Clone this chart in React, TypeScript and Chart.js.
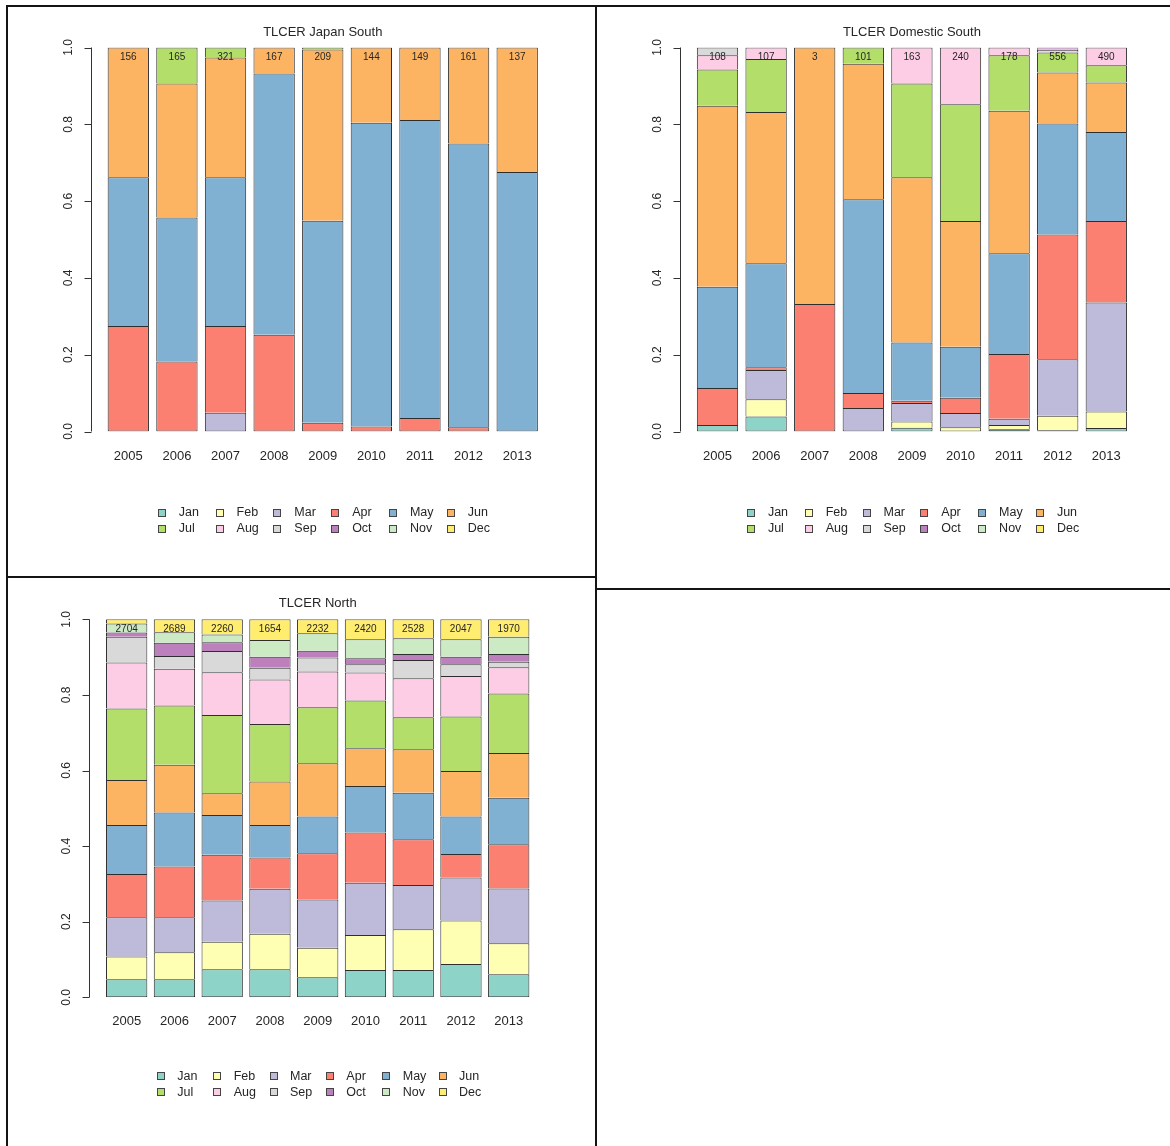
import React, { useEffect, useRef } from 'react';
import { Chart, registerables } from 'chart.js';

Chart.register(...registerables);

// ---------- data ----------
const YEARS = ['2005', '2006', '2007', '2008', '2009', '2010', '2011', '2012', '2013'];
const MONTHS = ['Jan', 'Feb', 'Mar', 'Apr', 'May', 'Jun', 'Jul', 'Aug', 'Sep', 'Oct', 'Nov', 'Dec'];
const MONTH_COLORS = ['#8DD3C7', '#FFFFB3', '#BEBADA', '#FB8072', '#80B1D3', '#FDB462', '#B3DE69', '#FCCDE5', '#D9D9D9', '#BC80BD', '#CCEBC5', '#FFED6F'];
const Y_TICK_VALUES = [0, 0.2, 0.4, 0.6, 0.8, 1.0];
const Y_TICK_LABELS = ['0.0', '0.2', '0.4', '0.6', '0.8', '1.0'];

const JAPAN_SOUTH_TITLE = 'TLCER Japan South';
const JAPAN_SOUTH_COUNTS = [156, 165, 321, 167, 209, 144, 149, 161, 137];
// one row per year, shares for Jan..Dec
const JAPAN_SOUTH_SHARES = [
  [0, 0, 0, 0.275, 0.387, 0.338, 0, 0, 0, 0, 0, 0],
  [0, 0, 0, 0.182, 0.375, 0.349, 0.094, 0, 0, 0, 0, 0],
  [0, 0, 0.049, 0.226, 0.387, 0.312, 0.026, 0, 0, 0, 0, 0],
  [0, 0, 0, 0.252, 0.68, 0.068, 0, 0, 0, 0, 0, 0],
  [0, 0, 0, 0.023, 0.526, 0.446, 0.005, 0, 0, 0, 0, 0],
  [0, 0, 0, 0.013, 0.791, 0.196, 0, 0, 0, 0, 0, 0],
  [0, 0, 0, 0.035, 0.776, 0.189, 0, 0, 0, 0, 0, 0],
  [0, 0, 0, 0.011, 0.739, 0.25, 0, 0, 0, 0, 0, 0],
  [0, 0, 0, 0, 0.676, 0.324, 0, 0, 0, 0, 0, 0],
];

const DOMESTIC_SOUTH_TITLE = 'TLCER Domestic South';
const DOMESTIC_SOUTH_COUNTS = [108, 107, 3, 101, 163, 240, 178, 556, 490];
const DOMESTIC_SOUTH_SHARES = [
  [0.017, 0, 0, 0.096, 0.264, 0.471, 0.095, 0.037, 0.02, 0, 0, 0],
  [0.039, 0.045, 0.076, 0.007, 0.271, 0.394, 0.138, 0.03, 0, 0, 0, 0],
  [0, 0, 0, 0.332, 0, 0.668, 0, 0, 0, 0, 0, 0],
  [0, 0, 0.061, 0.039, 0.505, 0.353, 0.042, 0, 0, 0, 0, 0],
  [0.01, 0.016, 0.048, 0.006, 0.152, 0.43, 0.244, 0.094, 0, 0, 0, 0],
  [0, 0.011, 0.037, 0.04, 0.133, 0.327, 0.304, 0.148, 0, 0, 0, 0],
  [0.006, 0.011, 0.016, 0.169, 0.262, 0.371, 0.145, 0.02, 0, 0, 0, 0],
  [0.003, 0.038, 0.147, 0.325, 0.289, 0.133, 0.052, 0.007, 0.003, 0.003, 0, 0],
  [0.009, 0.043, 0.284, 0.212, 0.232, 0.129, 0.045, 0.046, 0, 0, 0, 0],
];

const NORTH_TITLE = 'TLCER North';
const NORTH_COUNTS = [2704, 2689, 2260, 1654, 2232, 2420, 2528, 2047, 1970];
const NORTH_SHARES = [
  [0.048, 0.06, 0.104, 0.114, 0.13, 0.119, 0.189, 0.122, 0.068, 0.011, 0.024, 0.011],
  [0.048, 0.071, 0.093, 0.134, 0.143, 0.126, 0.157, 0.097, 0.034, 0.035, 0.028, 0.034],
  [0.074, 0.073, 0.109, 0.121, 0.105, 0.058, 0.207, 0.113, 0.056, 0.023, 0.021, 0.04],
  [0.074, 0.094, 0.119, 0.083, 0.086, 0.115, 0.152, 0.118, 0.031, 0.029, 0.044, 0.055],
  [0.053, 0.078, 0.128, 0.122, 0.097, 0.141, 0.148, 0.095, 0.037, 0.018, 0.046, 0.037],
  [0.072, 0.093, 0.138, 0.133, 0.123, 0.1, 0.126, 0.074, 0.022, 0.016, 0.05, 0.053],
  [0.072, 0.108, 0.117, 0.121, 0.123, 0.115, 0.085, 0.103, 0.048, 0.016, 0.042, 0.05],
  [0.088, 0.115, 0.114, 0.062, 0.099, 0.121, 0.144, 0.107, 0.031, 0.02, 0.046, 0.053],
  [0.061, 0.082, 0.145, 0.117, 0.123, 0.118, 0.158, 0.069, 0.015, 0.02, 0.046, 0.046],
];

// ---------- drawing ----------
const FONT = '"Liberation Sans", Arial, sans-serif';
const TEXT = '#262626';
const BAR_EDGE = '#2e2e2e';

function makeOverlay(title: string, counts: number[], s: number) {
  return {
    id: 'overlay',
    afterDatasetsDraw(chart: any) {
      const { ctx, chartArea: a, scales } = chart;
      const xs = scales.x;
      const ys = scales.y;
      const cx = (a.left + a.right) / 2;
      ctx.save();
      ctx.fillStyle = TEXT;
      ctx.strokeStyle = '#333';
      ctx.lineWidth = 1;

      // title
      ctx.font = `13px ${FONT}`;
      ctx.textAlign = 'center';
      ctx.textBaseline = 'middle';
      ctx.fillText(title, cx, a.top - 15.5);

      // y axis (R style)
      const ax = Math.round(a.left - 13.5) + 0.5;
      const y0 = ys.getPixelForValue(0);
      const y1 = ys.getPixelForValue(1);
      ctx.beginPath();
      ctx.moveTo(ax, y0);
      ctx.lineTo(ax, y1);
      Y_TICK_VALUES.forEach((v) => {
        const py = Math.round(ys.getPixelForValue(v)) + 0.5;
        ctx.moveTo(ax, py);
        ctx.lineTo(ax - 7, py);
      });
      ctx.stroke();
      ctx.font = `12px ${FONT}`;
      Y_TICK_VALUES.forEach((v, i) => {
        const py = ys.getPixelForValue(v);
        ctx.save();
        ctx.translate(ax - 22.5, py);
        ctx.rotate(-Math.PI / 2);
        ctx.textAlign = 'center';
        ctx.textBaseline = 'middle';
        ctx.fillText(Y_TICK_LABELS[i], 0, 0);
        ctx.restore();
      });

      // x labels
      ctx.font = `13px ${FONT}`;
      ctx.textAlign = 'center';
      ctx.textBaseline = 'middle';
      YEARS.forEach((yr, i) => {
        ctx.fillText(yr, xs.getPixelForValue(i), a.bottom + 25 * s);
      });

      // counts at top of bars
      ctx.font = `10px ${FONT}`;
      counts.forEach((n, i) => {
        ctx.fillText(String(n), xs.getPixelForValue(i), ys.getPixelForValue(1) + 9.5);
      });

      // legend (2 rows x 6 cols)
      ctx.font = `12.5px ${FONT}`;
      ctx.textAlign = 'left';
      const startX = cx - 165 * s;
      MONTHS.forEach((m, i) => {
        const col = i % 6;
        const row = Math.floor(i / 6);
        const bx = startX + col * 57.8 * s;
        const by = a.bottom + (81 + row * 16) * s;
        ctx.fillStyle = MONTH_COLORS[i];
        ctx.fillRect(Math.round(bx) + 0.5, Math.round(by - 4) + 0.5, 7, 7);
        ctx.strokeStyle = '#444';
        ctx.strokeRect(Math.round(bx) + 0.5, Math.round(by - 4) + 0.5, 7, 7);
        ctx.fillStyle = TEXT;
        ctx.fillText(m, bx + 21 * s, by + 0.5);
      });
      ctx.restore();
    },
  };
}

type PanelProps = {
  title: string;
  counts: number[];
  shares: number[][];
  left: number;
  top: number;
  width: number;
  height: number;
  pad: { left: number; right: number; top: number; bottom: number };
  s: number;
  barPct: number;
};

function Panel({ title, counts, shares, left, top, width, height, pad, s, barPct }: PanelProps) {
  const ref = useRef<HTMLCanvasElement | null>(null);
  useEffect(() => {
    if (!ref.current) return;
    const datasets = MONTHS.map((m, mi) => ({
      label: m,
      data: shares.map((row) => row[mi]),
      backgroundColor: MONTH_COLORS[mi],
      borderColor: BAR_EDGE,
      borderWidth: (c: any) => {
        const row = shares[c.dataIndex] || [];
        let first = -1;
        for (let k = 0; k < row.length; k++) {
          if (row[k] > 0) { first = k; break; }
        }
        return { top: 1, left: 1, right: 1, bottom: c.datasetIndex === first ? 1 : 0 };
      },
      borderSkipped: false,
      barPercentage: barPct,
      categoryPercentage: 1,
      stack: 'all',
    }));
    const chart = new Chart(ref.current, {
      type: 'bar',
      data: { labels: YEARS, datasets },
      options: {
        animation: false,
        responsive: false,
        maintainAspectRatio: false,
        events: [],
        layout: { padding: pad },
        plugins: { legend: { display: false }, title: { display: false }, tooltip: { enabled: false } },
        scales: {
          x: { stacked: true, display: false, offset: true },
          y: { stacked: true, display: false, min: 0, max: 1 },
        },
      },
      plugins: [makeOverlay(title, counts, s)],
    } as any);
    return () => chart.destroy();
  }, []);
  return (
    <canvas
      ref={ref}
      width={width}
      height={height}
      style={{ position: 'absolute', left, top, width, height }}
    />
  );
}

const line = (left: number, top: number, width: number, height: number) => (
  <div style={{ position: 'absolute', left, top, width, height, background: '#141414' }} />
);

export default function App() {
  return (
    <div style={{ position: 'absolute', left: 0, top: 0, width: 1170, height: 1146, background: '#fff', overflow: 'hidden' }}>
      <Panel
        title={JAPAN_SOUTH_TITLE}
        counts={JAPAN_SOUTH_COUNTS}
        shares={JAPAN_SOUTH_SHARES}
        left={0}
        top={0}
        width={597}
        height={577}
        pad={{ left: 104, right: 55.5, top: 47.5, bottom: 145.5 }}
        s={1}
        barPct={0.85}
      />
      <Panel
        title={DOMESTIC_SOUTH_TITLE}
        counts={DOMESTIC_SOUTH_COUNTS}
        shares={DOMESTIC_SOUTH_SHARES}
        left={597}
        top={0}
        width={573}
        height={588}
        pad={{ left: 96.2, right: 39.4, top: 47.5, bottom: 156.5 }}
        s={1}
        barPct={0.85}
      />
      <Panel
        title={NORTH_TITLE}
        counts={NORTH_COUNTS}
        shares={NORTH_SHARES}
        left={0}
        top={577}
        width={597}
        height={569}
        pad={{ left: 102.8, right: 64.4, top: 42.3, bottom: 148.7 }}
        s={0.975}
        barPct={0.865}
      />
      {line(6, 5, 1164, 2)}
      {line(6, 5, 2, 1141)}
      {line(595, 5, 2, 1141)}
      {line(7, 576, 590, 2)}
      {line(597, 588, 573, 2)}
    </div>
  );
}
